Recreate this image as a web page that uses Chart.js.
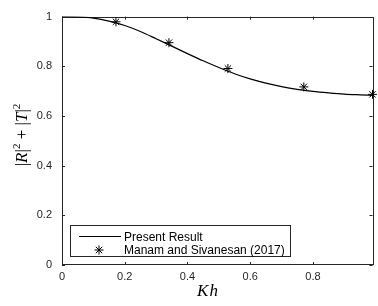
<!DOCTYPE html>
<html><head><meta charset="utf-8">
<script src="https://cdn.jsdelivr.net/npm/chart.js@4/dist/chart.umd.min.js"></script>
<style>
html,body{margin:0;padding:0;background:#fff;}
#wrap{position:relative;width:378px;height:306px;overflow:hidden;}
canvas{display:block;}
#ylab{position:absolute;left:-27px;top:124px;width:100px;height:22px;line-height:22px;text-align:center;transform:rotate(-90deg);transform-origin:50% 50%;white-space:nowrap;font:17px 'Liberation Serif','DejaVu Serif',serif;color:#000;}
#ylab sup{font-size:11px;vertical-align:7px;line-height:0;}
#xlab{position:absolute;left:158px;top:281px;width:100px;height:22px;line-height:22px;text-align:center;font:italic 17px 'Liberation Serif','DejaVu Serif',serif;letter-spacing:1px;color:#000;}
#legend{position:absolute;left:70px;top:225px;width:219px;height:30px;border:1px solid #262626;background:#fff;font:12px 'Liberation Sans',Arial,sans-serif;color:#000;}
#legend .t{position:absolute;left:53px;white-space:nowrap;line-height:14px;}
#legend svg{position:absolute;left:0;top:0;}
</style></head><body>
<div id="wrap">
<canvas id="c" width="378" height="306"></canvas>
<div id="ylab">|<i>R</i>|<sup>2</sup> + |<i>T</i>|<sup>2</sup></div>
<div id="xlab">Kh</div>
<div id="legend">
<svg width="219" height="30">
<line x1="8" y1="10.5" x2="50" y2="10.5" stroke="#000" stroke-width="1.2"/>
<g stroke="#000" stroke-width="1" transform="translate(28,24)">
<line x1="-4.5" y1="0" x2="4.5" y2="0"/><line x1="0" y1="-4.5" x2="0" y2="4.5"/>
<line x1="-3.2" y1="-3.2" x2="3.2" y2="3.2"/><line x1="-3.2" y1="3.2" x2="3.2" y2="-3.2"/>
</g>
</svg>
<div class="t" style="top:4px">Present Result</div>
<div class="t" style="top:17px">Manam and Sivanesan (2017)</div>
</div>
</div>
<script>
const curveKh  = [0, 0.05, 0.10, 0.15, 0.20, 0.25, 0.30, 0.35, 0.40, 0.45, 0.50, 0.55, 0.60, 0.65, 0.70, 0.75, 0.80, 0.85, 0.90, 0.95, 0.99];
const curveVal = [1.000, 0.999, 0.994, 0.982, 0.964, 0.940, 0.911, 0.881, 0.851, 0.822, 0.795, 0.770, 0.749, 0.732, 0.718, 0.707, 0.699, 0.693, 0.688, 0.685, 0.683];
const refKh    = [0.172, 0.341, 0.529, 0.771, 0.990];
const refVal   = [0.979, 0.895, 0.791, 0.717, 0.687];
const xTicks   = [0, 0.2, 0.4, 0.6, 0.8];
const yTicks   = [0, 0.2, 0.4, 0.6, 0.8, 1];

const axisColor = '#262626';
const boxPlugin = {
  id: 'box',
  beforeDatasetsDraw(chart) {
    const {ctx, chartArea: a, scales: {x, y}} = chart;
    ctx.save();
    ctx.strokeStyle = axisColor;
    ctx.lineWidth = 1;
    ctx.strokeRect(Math.round(a.left) + 0.5, Math.round(a.top) + 0.5, Math.round(a.right - a.left), Math.round(a.bottom - a.top) - 1);
    const L = 3;
    ctx.beginPath();
    xTicks.forEach(v => {
      const px = Math.round(x.getPixelForValue(v)) + 0.5;
      ctx.moveTo(px, a.bottom); ctx.lineTo(px, a.bottom - L);
      ctx.moveTo(px, a.top); ctx.lineTo(px, a.top + L);
    });
    yTicks.forEach(v => {
      const py = Math.round(y.getPixelForValue(v)) + 0.5;
      ctx.moveTo(a.left, py); ctx.lineTo(a.left + L, py);
      ctx.moveTo(a.right, py); ctx.lineTo(a.right - L, py);
    });
    ctx.stroke();
    ctx.restore();
  }
};

new Chart(document.getElementById('c'), {
  type: 'scatter',
  data: {
    datasets: [
      {
        label: 'Present Result',
        data: curveKh.map((k, i) => ({x: k, y: curveVal[i]})),
        showLine: true,
        borderColor: '#000',
        borderWidth: 1.2,
        pointRadius: 0,
        cubicInterpolationMode: 'monotone',
        fill: false
      },
      {
        label: 'Manam and Sivanesan (2017)',
        data: refKh.map((k, i) => ({x: k, y: refVal[i]})),
        showLine: false,
        pointStyle: 'star',
        pointRadius: 4.5,
        borderColor: '#000',
        backgroundColor: '#000',
        borderWidth: 1,
        clip: false
      }
    ]
  },
  options: {
    responsive: false,
    animation: false,
    devicePixelRatio: 1,
    layout: {padding: {top: 8, right: 1, left: 0, bottom: 0}},
    plugins: {legend: {display: false}, tooltip: {enabled: false}},
    scales: {
      x: {
        type: 'linear', min: 0, max: 0.99,
        afterBuildTicks: s => { s.ticks = xTicks.map(v => ({value: v})); },
        afterFit: s => { s.height = 41; },
        grid: {display: false, drawTicks: false},
        border: {display: false},
        ticks: {callback: v => String(v), color: axisColor, padding: 5, maxRotation: 0, autoSkip: false,
                font: {family: "'Liberation Sans', Arial, sans-serif", size: 11}}
      },
      y: {
        type: 'linear', min: 0, max: 1,
        afterBuildTicks: s => { s.ticks = yTicks.map(v => ({value: v})); },
        afterFit: s => { s.width = 62; },
        grid: {display: false, drawTicks: false},
        border: {display: false},
        ticks: {callback: v => String(v), color: axisColor, padding: 10, autoSkip: false,
                font: {family: "'Liberation Sans', Arial, sans-serif", size: 11}}
      }
    }
  },
  plugins: [boxPlugin]
});
</script>
</body></html>
